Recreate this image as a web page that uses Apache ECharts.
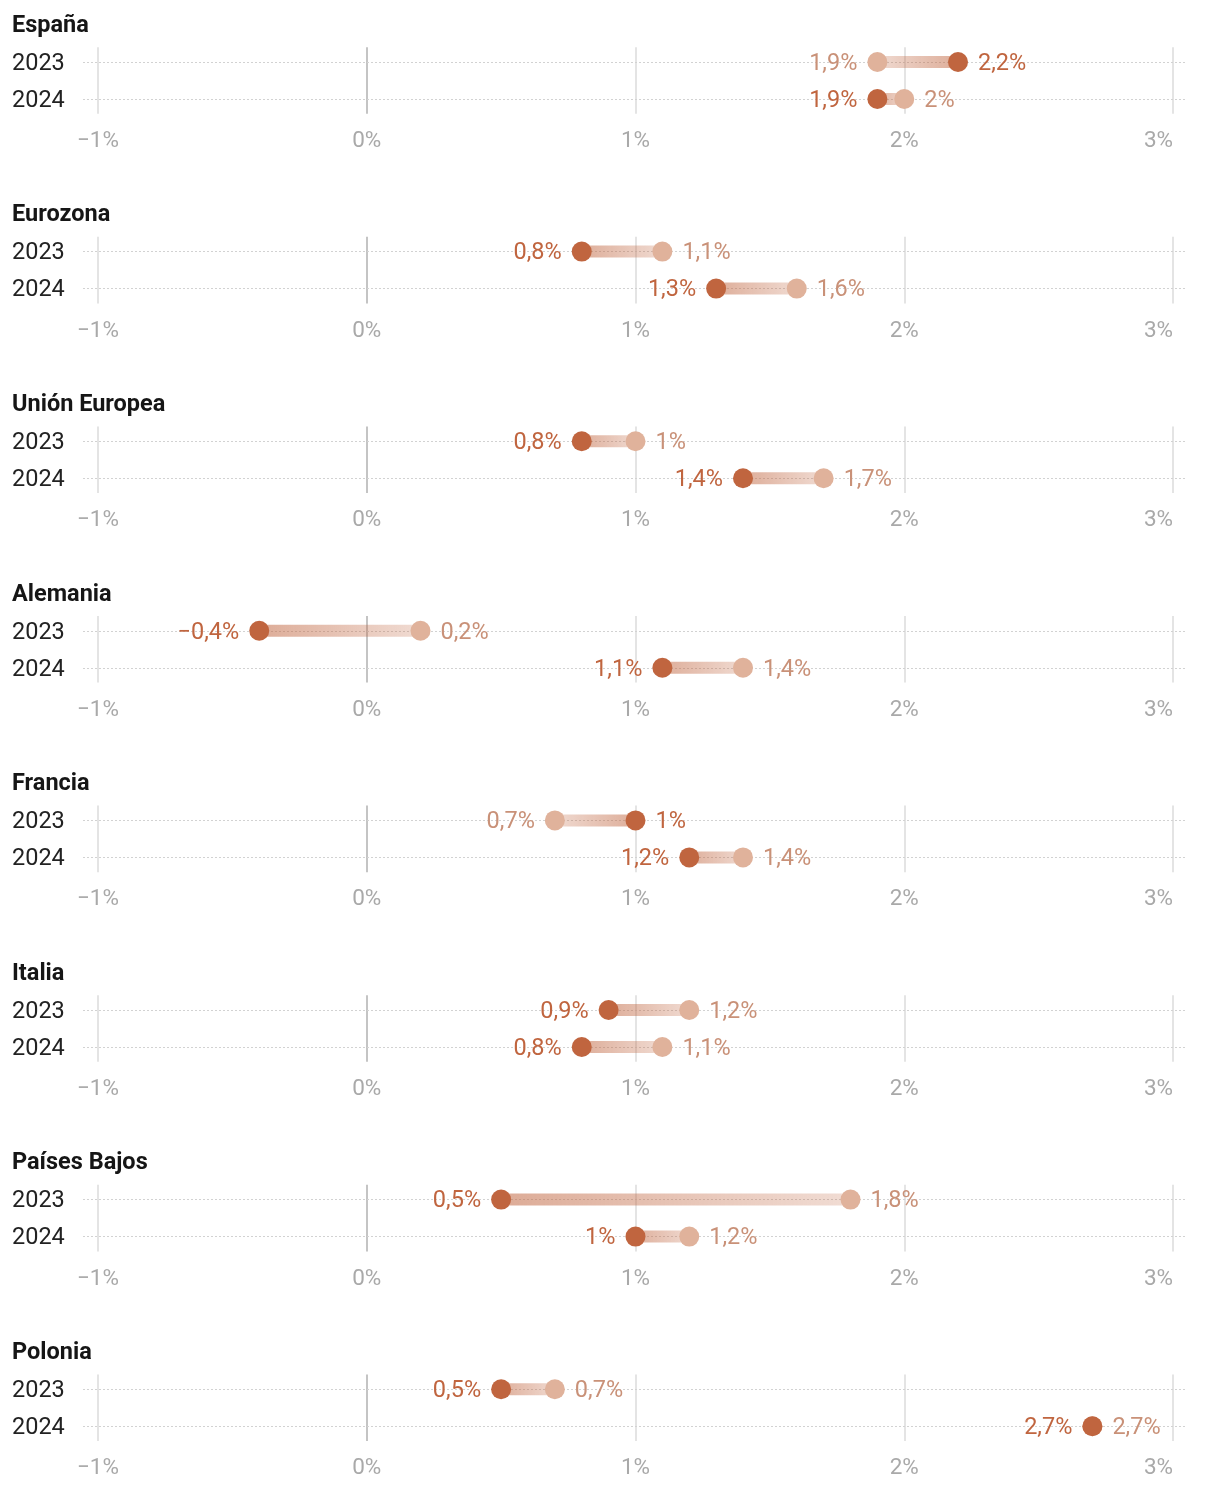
<!DOCTYPE html>
<html><head><meta charset="utf-8">
<script src="https://cdn.jsdelivr.net/npm/echarts@6/dist/echarts.min.js"></script>
<style>html,body{margin:0;padding:0;background:#fff}#c{width:1220px;height:1488px}</style>
</head><body><div id="c"></div>
<script>
const countries = ['España','Eurozona','Unión Europea','Alemania','Francia','Italia','Países Bajos','Polonia'];
const years = ['2023','2024'];
const dark2023 = [2.2, 0.8, 0.8, -0.4, 1.0, 0.9, 0.5, 0.5];
const light2023 = [1.9, 1.1, 1.0, 0.2, 0.7, 1.2, 1.8, 0.7];
const dark2024 = [1.9, 1.3, 1.4, 1.1, 1.2, 0.8, 1.0, 2.7];
const light2024 = [2.0, 1.6, 1.7, 1.4, 1.4, 1.1, 1.2, 2.7];
const tickValues = [-1, 0, 1, 2, 3];

const FONT = 'Roboto';
const DARK = '#c0653f', LIGHT = '#e0b29b', LIGHT_TXT = '#c99178';
const FIRST_ROW = 62, PITCH = 189.6, ROW_GAP = 37;
const PX = 269, LEFT = 83, RIGHT = 33, X_NEG1 = 98, X_POS3 = 1173;
const xMin = -1 - (X_NEG1 - LEFT) / PX;
const xMax = 3 + (1220 - RIGHT - X_POS3) / PX;
const TXT_SHIFT = 2 / ROW_GAP; // nudge year labels down ~2px

function fmt(v) {
  const s = Math.abs(v).toString().replace('.', ',');
  return (v < 0 ? '\u2212' : '') + s + '%';
}

const option = { animation: false, textStyle: { fontFamily: FONT }, title: [], grid: [], xAxis: [], yAxis: [], series: [] };

countries.forEach((name, i) => {
  const row = FIRST_ROW + i * PITCH;
  option.title.push({
    text: name, left: 12, top: row - 38 - 12, padding: [2, 0, 0, 0],
    textStyle: { fontFamily: FONT, fontSize: 23.5, fontWeight: 'bold', color: '#161616', lineHeight: 24 }
  });
  option.grid.push({ left: LEFT, right: RIGHT, top: row - 0.4 * ROW_GAP, height: 1.8 * ROW_GAP, containLabel: false, outerBoundsMode: 'none' });
  option.xAxis.push({
    gridIndex: i, type: 'value', min: xMin, max: xMax,
    axisLine: { show: false }, axisTick: { show: false }, splitLine: { show: false },
    axisLabel: { customValues: tickValues, formatter: fmt, color: '#a9a9a9', fontSize: 22.5, fontFamily: FONT, margin: 16, alignMaxLabel: 'right' }
  });
  option.yAxis.push({
    gridIndex: i, type: 'value', min: -0.4, max: 1.4, inverse: true, position: 'left',
    axisLine: { show: false }, axisTick: { show: false }, splitLine: { show: false },
    axisLabel: { show: false }
  });
  option.yAxis.push({
    gridIndex: i, type: 'value', min: -0.4 - TXT_SHIFT, max: 1.4 - TXT_SHIFT, inverse: true, position: 'left', offset: 0,
    axisLine: { show: false }, axisTick: { show: false }, splitLine: { show: false },
    axisLabel: { customValues: [0, 1], formatter: v => years[v], color: '#222', fontSize: 23.5, fontFamily: FONT, align: 'left', margin: 71 }
  });
  const yi = 2 * i;
  // reference lines
  option.series.push({
    type: 'line', xAxisIndex: i, yAxisIndex: yi, data: [], silent: true, z: 0,
    markLine: {
      silent: true, symbol: 'none', label: { show: false }, animation: false, z: 1,
      data: tickValues.map(t => ({ xAxis: t, lineStyle: { color: t === 0 ? '#c4c4c4' : '#e4e4e4', width: 2, type: 'solid' } }))
        .concat([0, 1].map(r => ({ yAxis: r, lineStyle: { color: '#d2d2d2', width: 1, type: [2, 2] } })))
    }
  });
  const darks = [dark2023[i], dark2024[i]];
  const lights = [light2023[i], light2024[i]];
  // connectors
  [0, 1].forEach(r => {
    const d = darks[r], l = lights[r];
    const dk = 'rgba(192,101,63,0.55)', lt = 'rgba(192,101,63,0.22)';
    const stops = d <= l ? [{ offset: 0, color: dk }, { offset: 1, color: lt }] : [{ offset: 0, color: lt }, { offset: 1, color: dk }];
    option.series.push({
      type: 'line', xAxisIndex: i, yAxisIndex: yi, z: 2, silent: true, symbol: 'none',
      data: [[d, r], [l, r]],
      lineStyle: { width: 12, cap: 'butt', color: new echarts.graphic.LinearGradient(0, 0, 1, 0, stops) }
    });
  });
  const lab = (color, pos) => ({ show: true, position: pos, distance: 10, offset: [0, 2], color, fontSize: 23.5, fontFamily: FONT, formatter: p => fmt(p.value[0]) });
  option.series.push({
    type: 'scatter', xAxisIndex: i, yAxisIndex: yi, z: 3, symbolSize: 20, silent: true,
    itemStyle: { color: LIGHT, opacity: 1 },
    data: [0, 1].map(r => ({ value: [lights[r], r], label: lab(LIGHT_TXT, darks[r] <= lights[r] ? 'right' : 'left') }))
  });
  option.series.push({
    type: 'scatter', xAxisIndex: i, yAxisIndex: yi, z: 4, symbolSize: 20, silent: true,
    itemStyle: { color: DARK, opacity: 1 },
    data: [0, 1].map(r => ({ value: [darks[r], r], label: lab(DARK, darks[r] <= lights[r] ? 'left' : 'right') }))
  });
});

const chart = echarts.init(document.getElementById('c'), null, { renderer: 'canvas' });
chart.setOption(option);
</script>
</body></html>
